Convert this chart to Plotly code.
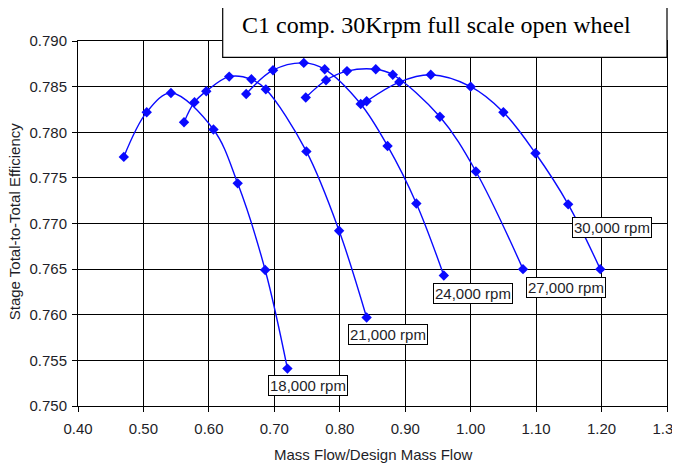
import plotly.graph_objects as go

# ---- data ----
speed_labels = ["18,000 rpm", "21,000 rpm", "24,000 rpm", "27,000 rpm", "30,000 rpm"]

flow_18k = [0.470, 0.505, 0.542, 0.607, 0.644, 0.686, 0.720]
eff_18k = [0.7773, 0.7822, 0.7843, 0.7803, 0.7744, 0.7649, 0.7541]

flow_21k = [0.562, 0.578, 0.596, 0.631, 0.665, 0.687, 0.749, 0.799, 0.841]
eff_21k = [0.7811, 0.7833, 0.7845, 0.7861, 0.7858, 0.7847, 0.7779, 0.7692, 0.7597]

flow_24k = [0.657, 0.698, 0.745, 0.777, 0.832, 0.873, 0.917, 0.959]
eff_24k = [0.7842, 0.7868, 0.7876, 0.7869, 0.7831, 0.7785, 0.7722, 0.7643]

flow_27k = [0.748, 0.779, 0.811, 0.855, 0.881, 0.953, 1.008, 1.080]
eff_27k = [0.7838, 0.7857, 0.7867, 0.7869, 0.7863, 0.7817, 0.7757, 0.7650]

flow_30k = [0.841, 0.891, 0.939, 1.000, 1.050, 1.099, 1.149, 1.198]
eff_30k = [0.7834, 0.7855, 0.7863, 0.7850, 0.7822, 0.7777, 0.7721, 0.7650]

x_tick_vals = [0.40, 0.50, 0.60, 0.70, 0.80, 0.90, 1.00, 1.10, 1.20, 1.30]
x_tick_text = ["0.40", "0.50", "0.60", "0.70", "0.80", "0.90", "1.00", "1.10", "1.20", "1.30"]
y_tick_vals = [0.750, 0.755, 0.760, 0.765, 0.770, 0.775, 0.780, 0.785, 0.790]
y_tick_text = ["0.750", "0.755", "0.760", "0.765", "0.770", "0.775", "0.780", "0.785", "0.790"]

title_text = "C1 comp. 30Krpm full scale open wheel"
x_title = "Mass Flow/Design Mass Flow"
y_title = "Stage Total-to-Total Efficiency"

# label anchor positions (data coordinates)
label_pos_x = [0.7515, 0.8737, 1.0036, 1.1457, 1.216]
label_pos_y = [0.7523, 0.7578, 0.7623, 0.7630, 0.7696]

series = [(flow_18k, eff_18k), (flow_21k, eff_21k), (flow_24k, eff_24k),
          (flow_27k, eff_27k), (flow_30k, eff_30k)]

LINE_BLUE = "#0a0aff"
SANS = "Liberation Sans, Arial, sans-serif"
TXT = "#1e1e28"

# The page body adds an 8px margin, so the figure is laid out 8px up/left.
OFF = 8
# target plot area in window pixels: x 78..667, y 41..406.5
L, T = 78 - OFF, 41 - OFF
W, H = 680, 466
PW, PH = 589, 365.5
R = W - L - PW
B = H - T - PH


def px_to_paper_x(px):
    return (px - OFF - L) / PW


def py_to_paper_y(py):
    return (T + PH - (py - OFF)) / PH


fig = go.Figure()
for (fx, fy), name in zip(series, speed_labels):
    fig.add_trace(go.Scatter(
        x=fx, y=fy, name=name, mode="lines+markers",
        line=dict(color=LINE_BLUE, width=1.4, shape="spline", smoothing=1.0),
        marker=dict(symbol="diamond", size=8, color=LINE_BLUE),
        showlegend=False, cliponaxis=False,
    ))

for lx, ly, txt in zip(label_pos_x, label_pos_y, speed_labels):
    fig.add_annotation(
        x=lx, y=ly, xref="x", yref="y", text=txt, showarrow=False,
        font=dict(family=SANS, size=15, color=TXT),
        bgcolor="white", bordercolor="black", borderwidth=1, borderpad=1,
        xanchor="center", yanchor="middle",
    )

# title box
fig.add_shape(type="rect", xref="paper", yref="paper",
              x0=px_to_paper_x(222.7), x1=px_to_paper_x(667),
              y0=py_to_paper_y(57.3), y1=py_to_paper_y(6.7),
              line=dict(color="black", width=1.2), fillcolor="white", layer="above")
fig.add_annotation(
    x=px_to_paper_x(240), y=py_to_paper_y(25), xref="paper", yref="paper", text=title_text,
    showarrow=False, xanchor="left", yanchor="middle",
    font=dict(family="Liberation Serif, Times New Roman, serif", size=24, color="black"),
)

# axis titles
fig.add_annotation(
    x=px_to_paper_x(373), y=py_to_paper_y(455), xref="paper", yref="paper", text=x_title,
    showarrow=False, xanchor="center", yanchor="middle",
    font=dict(family=SANS, size=15, color=TXT),
)
fig.add_annotation(
    x=px_to_paper_x(14.5), y=py_to_paper_y(222), xref="paper", yref="paper", text=y_title,
    showarrow=False, xanchor="center", yanchor="middle", textangle=-90,
    font=dict(family=SANS, size=15, color=TXT),
)

axis_common = dict(
    showgrid=True, gridcolor="black", gridwidth=1,
    showline=True, linecolor="black", linewidth=1, mirror=True,
    ticks="outside", ticklen=5, tickcolor="black", tickwidth=1,
    tickfont=dict(family=SANS, size=15, color=TXT),
    zeroline=False, automargin=False, ticklabeloverflow="allow",
)

fig.update_layout(
    width=W, height=H,
    margin=dict(l=L, r=R, t=T, b=B, autoexpand=False),
    paper_bgcolor="white", plot_bgcolor="white",
    xaxis=dict(range=[0.40, 1.30], tickmode="array", tickvals=x_tick_vals,
               ticktext=x_tick_text, ticklabelstandoff=4, **axis_common),
    yaxis=dict(range=[0.750, 0.790], tickmode="array", tickvals=y_tick_vals,
               ticktext=y_tick_text, ticklabelstandoff=2, **axis_common),
)

fig.write_html("out.html")
